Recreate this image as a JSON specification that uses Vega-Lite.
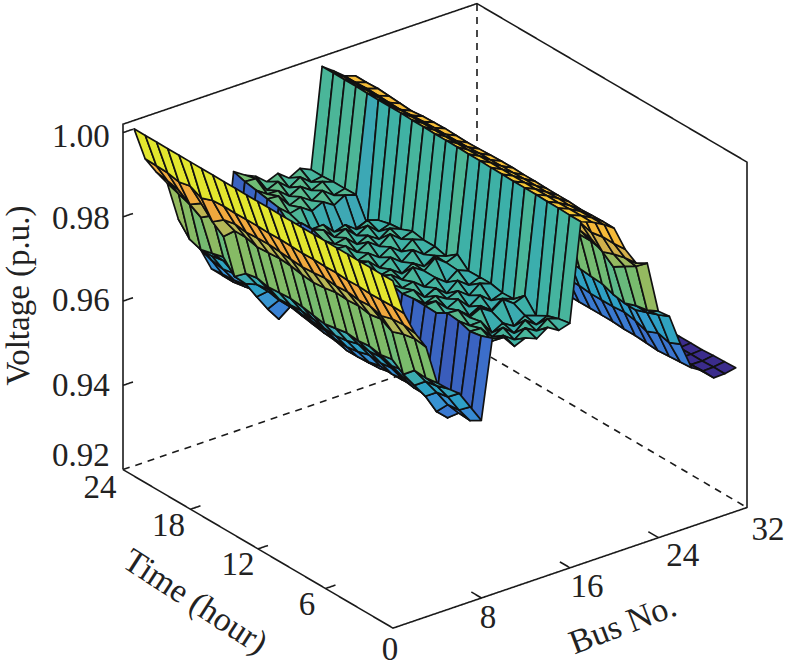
{"$schema":"https://vega.github.io/schema/vega-lite/v6.json","width":786,"height":671,"padding":0,"autosize":{"type":"fit","contains":"padding"},"background":"white","view":{"stroke":null},
"datasets":{
"box":[
{"g":"s1","o":1,"d":"solid","b":0,"t":24,"v":0.92},{"g":"s1","o":2,"d":"solid","b":0,"t":0,"v":0.92},{"g":"s1","o":3,"d":"solid","b":32,"t":0,"v":0.92},{"g":"s1","o":4,"d":"solid","b":32,"t":0,"v":1.002},{"g":"s1","o":5,"d":"solid","b":32,"t":24,"v":1.002},{"g":"s1","o":6,"d":"solid","b":0,"t":24,"v":1.002},{"g":"s1","o":7,"d":"solid","b":0,"t":24,"v":0.92},
{"g":"d1","o":1,"d":"dash","b":0,"t":24,"v":0.92},{"g":"d1","o":2,"d":"dash","b":32,"t":24,"v":0.92},{"g":"d1","o":3,"d":"dash","b":32,"t":0,"v":0.92},
{"g":"d2","o":1,"d":"dash","b":32,"t":24,"v":0.92},{"g":"d2","o":2,"d":"dash","b":32,"t":24,"v":1.002},
{"g":"t6","o":1,"d":"solid","b":0,"t":6,"v":0.92},{"g":"t6","o":2,"d":"solid","b":0.9,"t":6,"v":0.92},
{"g":"t12","o":1,"d":"solid","b":0,"t":12,"v":0.92},{"g":"t12","o":2,"d":"solid","b":0.9,"t":12,"v":0.92},
{"g":"t18","o":1,"d":"solid","b":0,"t":18,"v":0.92},{"g":"t18","o":2,"d":"solid","b":0.9,"t":18,"v":0.92},
{"g":"b8","o":1,"d":"solid","b":8,"t":0,"v":0.92},{"g":"b8","o":2,"d":"solid","b":8,"t":0.9,"v":0.92},
{"g":"b16","o":1,"d":"solid","b":16,"t":0,"v":0.92},{"g":"b16","o":2,"d":"solid","b":16,"t":0.9,"v":0.92},
{"g":"b24","o":1,"d":"solid","b":24,"t":0,"v":0.92},{"g":"b24","o":2,"d":"solid","b":24,"t":0.9,"v":0.92},
{"g":"v94","o":1,"d":"solid","b":0,"t":24,"v":0.94},{"g":"v94","o":2,"d":"solid","b":0.9,"t":24,"v":0.94},
{"g":"v96","o":1,"d":"solid","b":0,"t":24,"v":0.96},{"g":"v96","o":2,"d":"solid","b":0.9,"t":24,"v":0.96},
{"g":"v98","o":1,"d":"solid","b":0,"t":24,"v":0.98},{"g":"v98","o":2,"d":"solid","b":0.9,"t":24,"v":0.98},
{"g":"v100","o":1,"d":"solid","b":0,"t":24,"v":1.0},{"g":"v100","o":2,"d":"solid","b":0.9,"t":24,"v":1.0}
],
"labels":[
{"label":"1.00","b":-3.8,"t":24,"v":1.00246},{"label":"0.98","b":-3.8,"t":24,"v":0.9829},{"label":"0.96","b":-3.8,"t":24,"v":0.9634},{"label":"0.94","b":-3.8,"t":24,"v":0.9432},{"label":"0.92","b":-3.8,"t":24,"v":0.9267},
{"label":"24","b":-2.08,"t":24,"v":0.9174},{"label":"18","b":-2,"t":18,"v":0.9178},{"label":"12","b":-1.8,"t":12,"v":0.9177},{"label":"6","b":-1.67,"t":6,"v":0.9175},{"label":"0","b":-0.27,"t":0,"v":0.915},
{"label":"8","b":8.59,"t":0,"v":0.9147},{"label":"16","b":17.54,"t":0,"v":0.914},{"label":"24","b":26.2,"t":0,"v":0.9138},{"label":"32","b":33.9,"t":0,"v":0.91285}
],
"titleV":[{"label":"Voltage (p.u.)","b":-9.4,"t":24,"v":0.96975}],
"titleT":[{"label":"Time (hour)","b":-8.8,"t":8.95,"v":0.92}],
"titleB":[{"label":"Bus No.","b":13.45,"t":-7.22,"v":0.92}],
"grid":[
{"b":32,"t":24,"v":0.951},{"b":32,"t":23,"v":0.951},{"b":32,"t":22,"v":0.9512},{"b":32,"t":21,"v":0.951},{"b":32,"t":20,"v":0.9508},{"b":32,"t":19,"v":0.9506},{"b":32,"t":18,"v":0.951},{"b":32,"t":17,"v":0.9512},{"b":32,"t":16,"v":0.9512},{"b":32,"t":15,"v":0.951},{"b":32,"t":14,"v":0.951},{"b":32,"t":13,"v":0.9512},{"b":32,"t":12,"v":0.9512},{"b":32,"t":11,"v":0.9514},{"b":32,"t":10,"v":0.9514},{"b":32,"t":9,"v":0.9512},{"b":32,"t":8,"v":0.9512},{"b":32,"t":7,"v":0.9512},{"b":32,"t":6,"v":0.9512},{"b":32,"t":5,"v":0.9512},{"b":32,"t":4,"v":0.9512},{"b":32,"t":3,"v":0.9514},{"b":32,"t":2,"v":0.9515},{"b":32,"t":1,"v":0.9516},
{"b":31,"t":24,"v":0.9508},{"b":31,"t":23,"v":0.9508},{"b":31,"t":22,"v":0.951},{"b":31,"t":21,"v":0.9508},{"b":31,"t":20,"v":0.9506},{"b":31,"t":19,"v":0.9504},{"b":31,"t":18,"v":0.9508},{"b":31,"t":17,"v":0.951},{"b":31,"t":16,"v":0.951},{"b":31,"t":15,"v":0.9508},{"b":31,"t":14,"v":0.9508},{"b":31,"t":13,"v":0.951},{"b":31,"t":12,"v":0.951},{"b":31,"t":11,"v":0.9511},{"b":31,"t":10,"v":0.9511},{"b":31,"t":9,"v":0.951},{"b":31,"t":8,"v":0.951},{"b":31,"t":7,"v":0.951},{"b":31,"t":6,"v":0.951},{"b":31,"t":5,"v":0.951},{"b":31,"t":4,"v":0.951},{"b":31,"t":3,"v":0.951},{"b":31,"t":2,"v":0.9511},{"b":31,"t":1,"v":0.9511},
{"b":30,"t":24,"v":0.951},{"b":30,"t":23,"v":0.951},{"b":30,"t":22,"v":0.9512},{"b":30,"t":21,"v":0.951},{"b":30,"t":20,"v":0.9506},{"b":30,"t":19,"v":0.9504},{"b":30,"t":18,"v":0.9508},{"b":30,"t":17,"v":0.951},{"b":30,"t":16,"v":0.951},{"b":30,"t":15,"v":0.9508},{"b":30,"t":14,"v":0.9508},{"b":30,"t":13,"v":0.951},{"b":30,"t":12,"v":0.951},{"b":30,"t":11,"v":0.9511},{"b":30,"t":10,"v":0.9511},{"b":30,"t":9,"v":0.951},{"b":30,"t":8,"v":0.951},{"b":30,"t":7,"v":0.951},{"b":30,"t":6,"v":0.951},{"b":30,"t":5,"v":0.951},{"b":30,"t":4,"v":0.951},{"b":30,"t":3,"v":0.951},{"b":30,"t":2,"v":0.951},{"b":30,"t":1,"v":0.951},
{"b":29,"t":24,"v":0.953},{"b":29,"t":23,"v":0.953},{"b":29,"t":22,"v":0.9532},{"b":29,"t":21,"v":0.953},{"b":29,"t":20,"v":0.9525},{"b":29,"t":19,"v":0.9522},{"b":29,"t":18,"v":0.9528},{"b":29,"t":17,"v":0.953},{"b":29,"t":16,"v":0.9532},{"b":29,"t":15,"v":0.953},{"b":29,"t":14,"v":0.9528},{"b":29,"t":13,"v":0.953},{"b":29,"t":12,"v":0.9532},{"b":29,"t":11,"v":0.9533},{"b":29,"t":10,"v":0.9533},{"b":29,"t":9,"v":0.9532},{"b":29,"t":8,"v":0.9532},{"b":29,"t":7,"v":0.9532},{"b":29,"t":6,"v":0.9532},{"b":29,"t":5,"v":0.9532},{"b":29,"t":4,"v":0.9532},{"b":29,"t":3,"v":0.9532},{"b":29,"t":2,"v":0.9534},{"b":29,"t":1,"v":0.9536},
{"b":28,"t":24,"v":0.955},{"b":28,"t":23,"v":0.955},{"b":28,"t":22,"v":0.9552},{"b":28,"t":21,"v":0.9548},{"b":28,"t":20,"v":0.9545},{"b":28,"t":19,"v":0.9542},{"b":28,"t":18,"v":0.9548},{"b":28,"t":17,"v":0.955},{"b":28,"t":16,"v":0.9552},{"b":28,"t":15,"v":0.955},{"b":28,"t":14,"v":0.9548},{"b":28,"t":13,"v":0.955},{"b":28,"t":12,"v":0.9552},{"b":28,"t":11,"v":0.9552},{"b":28,"t":10,"v":0.9552},{"b":28,"t":9,"v":0.9552},{"b":28,"t":8,"v":0.9552},{"b":28,"t":7,"v":0.955},{"b":28,"t":6,"v":0.955},{"b":28,"t":5,"v":0.9548},{"b":28,"t":4,"v":0.9546},{"b":28,"t":3,"v":0.9548},{"b":28,"t":2,"v":0.955},{"b":28,"t":1,"v":0.9552},
{"b":27,"t":24,"v":0.961},{"b":27,"t":23,"v":0.961},{"b":27,"t":22,"v":0.9612},{"b":27,"t":21,"v":0.9608},{"b":27,"t":20,"v":0.96},{"b":27,"t":19,"v":0.9595},{"b":27,"t":18,"v":0.9605},{"b":27,"t":17,"v":0.961},{"b":27,"t":16,"v":0.9612},{"b":27,"t":15,"v":0.9608},{"b":27,"t":14,"v":0.9606},{"b":27,"t":13,"v":0.961},{"b":27,"t":12,"v":0.9612},{"b":27,"t":11,"v":0.9615},{"b":27,"t":10,"v":0.9615},{"b":27,"t":9,"v":0.9612},{"b":27,"t":8,"v":0.9612},{"b":27,"t":7,"v":0.9612},{"b":27,"t":6,"v":0.9615},{"b":27,"t":5,"v":0.961},{"b":27,"t":4,"v":0.96},{"b":27,"t":3,"v":0.9612},{"b":27,"t":2,"v":0.9605},{"b":27,"t":1,"v":0.9617},
{"b":26,"t":24,"v":0.9685},{"b":26,"t":23,"v":0.9685},{"b":26,"t":22,"v":0.9688},{"b":26,"t":21,"v":0.968},{"b":26,"t":20,"v":0.9672},{"b":26,"t":19,"v":0.9668},{"b":26,"t":18,"v":0.9678},{"b":26,"t":17,"v":0.9685},{"b":26,"t":16,"v":0.9688},{"b":26,"t":15,"v":0.9682},{"b":26,"t":14,"v":0.968},{"b":26,"t":13,"v":0.9685},{"b":26,"t":12,"v":0.9688},{"b":26,"t":11,"v":0.969},{"b":26,"t":10,"v":0.969},{"b":26,"t":9,"v":0.9688},{"b":26,"t":8,"v":0.9685},{"b":26,"t":7,"v":0.9682},{"b":26,"t":6,"v":0.968},{"b":26,"t":5,"v":0.9675},{"b":26,"t":4,"v":0.966},{"b":26,"t":3,"v":0.967},{"b":26,"t":2,"v":0.968},{"b":26,"t":1,"v":0.9692},
{"b":25,"t":24,"v":0.9705},{"b":25,"t":23,"v":0.9705},{"b":25,"t":22,"v":0.9708},{"b":25,"t":21,"v":0.97},{"b":25,"t":20,"v":0.9692},{"b":25,"t":19,"v":0.9688},{"b":25,"t":18,"v":0.9698},{"b":25,"t":17,"v":0.9705},{"b":25,"t":16,"v":0.9708},{"b":25,"t":15,"v":0.9702},{"b":25,"t":14,"v":0.97},{"b":25,"t":13,"v":0.9705},{"b":25,"t":12,"v":0.9708},{"b":25,"t":11,"v":0.971},{"b":25,"t":10,"v":0.971},{"b":25,"t":9,"v":0.9708},{"b":25,"t":8,"v":0.9705},{"b":25,"t":7,"v":0.9702},{"b":25,"t":6,"v":0.97},{"b":25,"t":5,"v":0.969},{"b":25,"t":4,"v":0.9685},{"b":25,"t":3,"v":0.9695},{"b":25,"t":2,"v":0.97},{"b":25,"t":1,"v":0.9713},
{"b":24,"t":24,"v":0.9815},{"b":24,"t":23,"v":0.9815},{"b":24,"t":22,"v":0.9818},{"b":24,"t":21,"v":0.981},{"b":24,"t":20,"v":0.98},{"b":24,"t":19,"v":0.9795},{"b":24,"t":18,"v":0.9805},{"b":24,"t":17,"v":0.9812},{"b":24,"t":16,"v":0.9815},{"b":24,"t":15,"v":0.981},{"b":24,"t":14,"v":0.9806},{"b":24,"t":13,"v":0.9812},{"b":24,"t":12,"v":0.9815},{"b":24,"t":11,"v":0.9818},{"b":24,"t":10,"v":0.9818},{"b":24,"t":9,"v":0.9815},{"b":24,"t":8,"v":0.9812},{"b":24,"t":7,"v":0.981},{"b":24,"t":6,"v":0.981},{"b":24,"t":5,"v":0.9805},{"b":24,"t":4,"v":0.978},{"b":24,"t":3,"v":0.9797},{"b":24,"t":2,"v":0.9813},{"b":24,"t":1,"v":0.9836},
{"b":23,"t":24,"v":0.9845},{"b":23,"t":23,"v":0.9845},{"b":23,"t":22,"v":0.9848},{"b":23,"t":21,"v":0.984},{"b":23,"t":20,"v":0.9832},{"b":23,"t":19,"v":0.9825},{"b":23,"t":18,"v":0.9835},{"b":23,"t":17,"v":0.9842},{"b":23,"t":16,"v":0.9845},{"b":23,"t":15,"v":0.984},{"b":23,"t":14,"v":0.9838},{"b":23,"t":13,"v":0.9842},{"b":23,"t":12,"v":0.9845},{"b":23,"t":11,"v":0.9848},{"b":23,"t":10,"v":0.9848},{"b":23,"t":9,"v":0.9845},{"b":23,"t":8,"v":0.9845},{"b":23,"t":7,"v":0.9845},{"b":23,"t":6,"v":0.9845},{"b":23,"t":5,"v":0.984},{"b":23,"t":4,"v":0.9825},{"b":23,"t":3,"v":0.9835},{"b":23,"t":2,"v":0.9842},{"b":23,"t":1,"v":0.9845},
{"b":22,"t":24,"v":0.989},{"b":22,"t":23,"v":0.989},{"b":22,"t":22,"v":0.9892},{"b":22,"t":21,"v":0.9888},{"b":22,"t":20,"v":0.988},{"b":22,"t":19,"v":0.9875},{"b":22,"t":18,"v":0.9885},{"b":22,"t":17,"v":0.9888},{"b":22,"t":16,"v":0.989},{"b":22,"t":15,"v":0.9888},{"b":22,"t":14,"v":0.9885},{"b":22,"t":13,"v":0.9888},{"b":22,"t":12,"v":0.989},{"b":22,"t":11,"v":0.9892},{"b":22,"t":10,"v":0.9892},{"b":22,"t":9,"v":0.989},{"b":22,"t":8,"v":0.989},{"b":22,"t":7,"v":0.989},{"b":22,"t":6,"v":0.989},{"b":22,"t":5,"v":0.9888},{"b":22,"t":4,"v":0.988},{"b":22,"t":3,"v":0.9885},{"b":22,"t":2,"v":0.9885},{"b":22,"t":1,"v":0.9887},
{"b":21,"t":24,"v":0.9947},{"b":21,"t":23,"v":0.9947},{"b":21,"t":22,"v":0.9948},{"b":21,"t":21,"v":0.9946},{"b":21,"t":20,"v":0.9944},{"b":21,"t":19,"v":0.9942},{"b":21,"t":18,"v":0.9945},{"b":21,"t":17,"v":0.9946},{"b":21,"t":16,"v":0.9947},{"b":21,"t":15,"v":0.9946},{"b":21,"t":14,"v":0.9945},{"b":21,"t":13,"v":0.9946},{"b":21,"t":12,"v":0.9947},{"b":21,"t":11,"v":0.9948},{"b":21,"t":10,"v":0.9948},{"b":21,"t":9,"v":0.9947},{"b":21,"t":8,"v":0.9947},{"b":21,"t":7,"v":0.9946},{"b":21,"t":6,"v":0.9946},{"b":21,"t":5,"v":0.9946},{"b":21,"t":4,"v":0.9944},{"b":21,"t":3,"v":0.9945},{"b":21,"t":2,"v":0.9946},{"b":21,"t":1,"v":0.9946},
{"b":20,"t":24,"v":0.9956},{"b":20,"t":23,"v":0.9956},{"b":20,"t":22,"v":0.9957},{"b":20,"t":21,"v":0.9956},{"b":20,"t":20,"v":0.9955},{"b":20,"t":19,"v":0.9954},{"b":20,"t":18,"v":0.9956},{"b":20,"t":17,"v":0.9957},{"b":20,"t":16,"v":0.9958},{"b":20,"t":15,"v":0.9958},{"b":20,"t":14,"v":0.9958},{"b":20,"t":13,"v":0.9959},{"b":20,"t":12,"v":0.996},{"b":20,"t":11,"v":0.996},{"b":20,"t":10,"v":0.9961},{"b":20,"t":9,"v":0.9961},{"b":20,"t":8,"v":0.9962},{"b":20,"t":7,"v":0.9962},{"b":20,"t":6,"v":0.9962},{"b":20,"t":5,"v":0.9963},{"b":20,"t":4,"v":0.9962},{"b":20,"t":3,"v":0.9963},{"b":20,"t":2,"v":0.9964},{"b":20,"t":1,"v":0.9964},
{"b":19,"t":24,"v":0.9977},{"b":19,"t":23,"v":0.9977},{"b":19,"t":22,"v":0.9977},{"b":19,"t":21,"v":0.9977},{"b":19,"t":20,"v":0.9976},{"b":19,"t":19,"v":0.9975},{"b":19,"t":18,"v":0.9977},{"b":19,"t":17,"v":0.9977},{"b":19,"t":16,"v":0.9977},{"b":19,"t":15,"v":0.9977},{"b":19,"t":14,"v":0.9977},{"b":19,"t":13,"v":0.9977},{"b":19,"t":12,"v":0.9977},{"b":19,"t":11,"v":0.9978},{"b":19,"t":10,"v":0.9978},{"b":19,"t":9,"v":0.9978},{"b":19,"t":8,"v":0.9978},{"b":19,"t":7,"v":0.9978},{"b":19,"t":6,"v":0.9978},{"b":19,"t":5,"v":0.9978},{"b":19,"t":4,"v":0.9977},{"b":19,"t":3,"v":0.9978},{"b":19,"t":2,"v":0.9978},{"b":19,"t":1,"v":0.9978},
{"b":18,"t":24,"v":0.9996},{"b":18,"t":23,"v":0.9996},{"b":18,"t":22,"v":0.9996},{"b":18,"t":21,"v":0.9996},{"b":18,"t":20,"v":0.9995},{"b":18,"t":19,"v":0.9995},{"b":18,"t":18,"v":0.9995},{"b":18,"t":17,"v":0.9995},{"b":18,"t":16,"v":0.9994},{"b":18,"t":15,"v":0.9994},{"b":18,"t":14,"v":0.9993},{"b":18,"t":13,"v":0.9993},{"b":18,"t":12,"v":0.9993},{"b":18,"t":11,"v":0.9992},{"b":18,"t":10,"v":0.9992},{"b":18,"t":9,"v":0.9991},{"b":18,"t":8,"v":0.9991},{"b":18,"t":7,"v":0.999},{"b":18,"t":6,"v":0.999},{"b":18,"t":5,"v":0.999},{"b":18,"t":4,"v":0.9989},{"b":18,"t":3,"v":0.9989},{"b":18,"t":2,"v":0.9988},{"b":18,"t":1,"v":0.9988},
{"b":17,"t":24,"v":0.976},{"b":17,"t":23,"v":0.976},{"b":17,"t":22,"v":0.9762},{"b":17,"t":21,"v":0.9762},{"b":17,"t":20,"v":0.9763},{"b":17,"t":19,"v":0.9708},{"b":17,"t":18,"v":0.9734},{"b":17,"t":17,"v":0.9741},{"b":17,"t":16,"v":0.9744},{"b":17,"t":15,"v":0.9755},{"b":17,"t":14,"v":0.975},{"b":17,"t":13,"v":0.975},{"b":17,"t":12,"v":0.9743},{"b":17,"t":11,"v":0.9763},{"b":17,"t":10,"v":0.9739},{"b":17,"t":9,"v":0.974},{"b":17,"t":8,"v":0.974},{"b":17,"t":7,"v":0.9734},{"b":17,"t":6,"v":0.9735},{"b":17,"t":5,"v":0.9759},{"b":17,"t":4,"v":0.9727},{"b":17,"t":3,"v":0.9742},{"b":17,"t":2,"v":0.9751},{"b":17,"t":1,"v":0.9756},
{"b":16,"t":24,"v":0.9772},{"b":16,"t":23,"v":0.9755},{"b":16,"t":22,"v":0.9772},{"b":16,"t":21,"v":0.9755},{"b":16,"t":20,"v":0.9771},{"b":16,"t":19,"v":0.9708},{"b":16,"t":18,"v":0.9743},{"b":16,"t":17,"v":0.9732},{"b":16,"t":16,"v":0.9755},{"b":16,"t":15,"v":0.9745},{"b":16,"t":14,"v":0.976},{"b":16,"t":13,"v":0.974},{"b":16,"t":12,"v":0.9753},{"b":16,"t":11,"v":0.9752},{"b":16,"t":10,"v":0.975},{"b":16,"t":9,"v":0.973},{"b":16,"t":8,"v":0.975},{"b":16,"t":7,"v":0.9725},{"b":16,"t":6,"v":0.9745},{"b":16,"t":5,"v":0.9749},{"b":16,"t":4,"v":0.9736},{"b":16,"t":3,"v":0.973},{"b":16,"t":2,"v":0.976},{"b":16,"t":1,"v":0.9748},
{"b":15,"t":24,"v":0.9758},{"b":15,"t":23,"v":0.9776},{"b":15,"t":22,"v":0.976},{"b":15,"t":21,"v":0.9775},{"b":15,"t":20,"v":0.9756},{"b":15,"t":19,"v":0.971},{"b":15,"t":18,"v":0.973},{"b":15,"t":17,"v":0.9755},{"b":15,"t":16,"v":0.9738},{"b":15,"t":15,"v":0.9766},{"b":15,"t":14,"v":0.974},{"b":15,"t":13,"v":0.976},{"b":15,"t":12,"v":0.9736},{"b":15,"t":11,"v":0.9772},{"b":15,"t":10,"v":0.973},{"b":15,"t":9,"v":0.975},{"b":15,"t":8,"v":0.973},{"b":15,"t":7,"v":0.9746},{"b":15,"t":6,"v":0.9726},{"b":15,"t":5,"v":0.9768},{"b":15,"t":4,"v":0.972},{"b":15,"t":3,"v":0.975},{"b":15,"t":2,"v":0.974},{"b":15,"t":1,"v":0.9764},
{"b":14,"t":24,"v":0.9778},{"b":14,"t":23,"v":0.976},{"b":14,"t":22,"v":0.9778},{"b":14,"t":21,"v":0.976},{"b":14,"t":20,"v":0.9773},{"b":14,"t":19,"v":0.9712},{"b":14,"t":18,"v":0.975},{"b":14,"t":17,"v":0.974},{"b":14,"t":16,"v":0.9756},{"b":14,"t":15,"v":0.9746},{"b":14,"t":14,"v":0.976},{"b":14,"t":13,"v":0.974},{"b":14,"t":12,"v":0.9753},{"b":14,"t":11,"v":0.975},{"b":14,"t":10,"v":0.975},{"b":14,"t":9,"v":0.9728},{"b":14,"t":8,"v":0.975},{"b":14,"t":7,"v":0.9728},{"b":14,"t":6,"v":0.9746},{"b":14,"t":5,"v":0.9748},{"b":14,"t":4,"v":0.9736},{"b":14,"t":3,"v":0.9728},{"b":14,"t":2,"v":0.9756},{"b":14,"t":1,"v":0.9746},
{"b":13,"t":24,"v":0.9767},{"b":13,"t":23,"v":0.9783},{"b":13,"t":22,"v":0.9764},{"b":13,"t":21,"v":0.9778},{"b":13,"t":20,"v":0.976},{"b":13,"t":19,"v":0.972},{"b":13,"t":18,"v":0.9742},{"b":13,"t":17,"v":0.9765},{"b":13,"t":16,"v":0.9744},{"b":13,"t":15,"v":0.9765},{"b":13,"t":14,"v":0.9744},{"b":13,"t":13,"v":0.976},{"b":13,"t":12,"v":0.9737},{"b":13,"t":11,"v":0.9768},{"b":13,"t":10,"v":0.9737},{"b":13,"t":9,"v":0.975},{"b":13,"t":8,"v":0.974},{"b":13,"t":7,"v":0.9755},{"b":13,"t":6,"v":0.9732},{"b":13,"t":5,"v":0.9765},{"b":13,"t":4,"v":0.9722},{"b":13,"t":3,"v":0.975},{"b":13,"t":2,"v":0.9737},{"b":13,"t":1,"v":0.9757},
{"b":12,"t":24,"v":0.9789},{"b":12,"t":23,"v":0.9772},{"b":12,"t":22,"v":0.9786},{"b":12,"t":21,"v":0.9767},{"b":12,"t":20,"v":0.9778},{"b":12,"t":19,"v":0.9735},{"b":12,"t":18,"v":0.9768},{"b":12,"t":17,"v":0.9754},{"b":12,"t":16,"v":0.9768},{"b":12,"t":15,"v":0.975},{"b":12,"t":14,"v":0.9763},{"b":12,"t":13,"v":0.9744},{"b":12,"t":12,"v":0.9756},{"b":12,"t":11,"v":0.9747},{"b":12,"t":10,"v":0.9758},{"b":12,"t":9,"v":0.9737},{"b":12,"t":8,"v":0.9756},{"b":12,"t":7,"v":0.9742},{"b":12,"t":6,"v":0.9753},{"b":12,"t":5,"v":0.9752},{"b":12,"t":4,"v":0.9758},{"b":12,"t":3,"v":0.9737},{"b":12,"t":2,"v":0.9756},{"b":12,"t":1,"v":0.9746},
{"b":11,"t":24,"v":0.9801},{"b":11,"t":23,"v":0.9808},{"b":11,"t":22,"v":0.9787},{"b":11,"t":21,"v":0.9798},{"b":11,"t":20,"v":0.9772},{"b":11,"t":19,"v":0.9763},{"b":11,"t":18,"v":0.9767},{"b":11,"t":17,"v":0.978},{"b":11,"t":16,"v":0.9762},{"b":11,"t":15,"v":0.9773},{"b":11,"t":14,"v":0.9754},{"b":11,"t":13,"v":0.9768},{"b":11,"t":12,"v":0.975},{"b":11,"t":11,"v":0.9768},{"b":11,"t":10,"v":0.9752},{"b":11,"t":9,"v":0.9763},{"b":11,"t":8,"v":0.9747},{"b":11,"t":7,"v":0.9768},{"b":11,"t":6,"v":0.9747},{"b":11,"t":5,"v":0.9778},{"b":11,"t":4,"v":0.9757},{"b":11,"t":3,"v":0.9766},{"b":11,"t":2,"v":0.9752},{"b":11,"t":1,"v":0.9776},
{"b":10,"t":24,"v":0.9818},{"b":10,"t":23,"v":0.981},{"b":10,"t":22,"v":0.9805},{"b":10,"t":21,"v":0.98},{"b":10,"t":20,"v":0.9795},{"b":10,"t":19,"v":0.977},{"b":10,"t":18,"v":0.979},{"b":10,"t":17,"v":0.979},{"b":10,"t":16,"v":0.978},{"b":10,"t":15,"v":0.9775},{"b":10,"t":14,"v":0.9772},{"b":10,"t":13,"v":0.977},{"b":10,"t":12,"v":0.9768},{"b":10,"t":11,"v":0.977},{"b":10,"t":10,"v":0.977},{"b":10,"t":9,"v":0.9763},{"b":10,"t":8,"v":0.9767},{"b":10,"t":7,"v":0.9766},{"b":10,"t":6,"v":0.9765},{"b":10,"t":5,"v":0.978},{"b":10,"t":4,"v":0.9777},{"b":10,"t":3,"v":0.9768},{"b":10,"t":2,"v":0.9773},{"b":10,"t":1,"v":0.9783},
{"b":9,"t":24,"v":0.958},{"b":9,"t":23,"v":0.958},{"b":9,"t":22,"v":0.9585},{"b":9,"t":21,"v":0.959},{"b":9,"t":20,"v":0.9595},{"b":9,"t":19,"v":0.9555},{"b":9,"t":18,"v":0.96},{"b":9,"t":17,"v":0.9609},{"b":9,"t":16,"v":0.9594},{"b":9,"t":15,"v":0.959},{"b":9,"t":14,"v":0.9585},{"b":9,"t":13,"v":0.9583},{"b":9,"t":12,"v":0.9577},{"b":9,"t":11,"v":0.9577},{"b":9,"t":10,"v":0.9579},{"b":9,"t":9,"v":0.9585},{"b":9,"t":8,"v":0.9583},{"b":9,"t":7,"v":0.9585},{"b":9,"t":6,"v":0.958},{"b":9,"t":5,"v":0.9584},{"b":9,"t":4,"v":0.9556},{"b":9,"t":3,"v":0.9583},{"b":9,"t":2,"v":0.9581},{"b":9,"t":1,"v":0.9597},
{"b":8,"t":24,"v":0.9605},{"b":8,"t":23,"v":0.9608},{"b":8,"t":22,"v":0.961},{"b":8,"t":21,"v":0.9615},{"b":8,"t":20,"v":0.962},{"b":8,"t":19,"v":0.9588},{"b":8,"t":18,"v":0.9625},{"b":8,"t":17,"v":0.9633},{"b":8,"t":16,"v":0.962},{"b":8,"t":15,"v":0.9615},{"b":8,"t":14,"v":0.961},{"b":8,"t":13,"v":0.9607},{"b":8,"t":12,"v":0.96},{"b":8,"t":11,"v":0.96},{"b":8,"t":10,"v":0.9603},{"b":8,"t":9,"v":0.961},{"b":8,"t":8,"v":0.9607},{"b":8,"t":7,"v":0.961},{"b":8,"t":6,"v":0.9605},{"b":8,"t":5,"v":0.961},{"b":8,"t":4,"v":0.958},{"b":8,"t":3,"v":0.9612},{"b":8,"t":2,"v":0.9615},{"b":8,"t":1,"v":0.9638},
{"b":7,"t":24,"v":0.966},{"b":7,"t":23,"v":0.965},{"b":7,"t":22,"v":0.9645},{"b":7,"t":21,"v":0.965},{"b":7,"t":20,"v":0.9655},{"b":7,"t":19,"v":0.9626},{"b":7,"t":18,"v":0.9655},{"b":7,"t":17,"v":0.966},{"b":7,"t":16,"v":0.965},{"b":7,"t":15,"v":0.9648},{"b":7,"t":14,"v":0.9645},{"b":7,"t":13,"v":0.9642},{"b":7,"t":12,"v":0.9635},{"b":7,"t":11,"v":0.9633},{"b":7,"t":10,"v":0.9637},{"b":7,"t":9,"v":0.9645},{"b":7,"t":8,"v":0.9642},{"b":7,"t":7,"v":0.9645},{"b":7,"t":6,"v":0.964},{"b":7,"t":5,"v":0.9645},{"b":7,"t":4,"v":0.9625},{"b":7,"t":3,"v":0.965},{"b":7,"t":2,"v":0.9655},{"b":7,"t":1,"v":0.9679},
{"b":6,"t":24,"v":0.9715},{"b":6,"t":23,"v":0.9695},{"b":6,"t":22,"v":0.9685},{"b":6,"t":21,"v":0.969},{"b":6,"t":20,"v":0.9695},{"b":6,"t":19,"v":0.9666},{"b":6,"t":18,"v":0.968},{"b":6,"t":17,"v":0.9685},{"b":6,"t":16,"v":0.9676},{"b":6,"t":15,"v":0.9678},{"b":6,"t":14,"v":0.968},{"b":6,"t":13,"v":0.9677},{"b":6,"t":12,"v":0.967},{"b":6,"t":11,"v":0.9668},{"b":6,"t":10,"v":0.9672},{"b":6,"t":9,"v":0.968},{"b":6,"t":8,"v":0.9678},{"b":6,"t":7,"v":0.968},{"b":6,"t":6,"v":0.9675},{"b":6,"t":5,"v":0.968},{"b":6,"t":4,"v":0.966},{"b":6,"t":3,"v":0.9685},{"b":6,"t":2,"v":0.969},{"b":6,"t":1,"v":0.9699},
{"b":5,"t":24,"v":0.975},{"b":5,"t":23,"v":0.9718},{"b":5,"t":22,"v":0.9709},{"b":5,"t":21,"v":0.9716},{"b":5,"t":20,"v":0.9723},{"b":5,"t":19,"v":0.9692},{"b":5,"t":18,"v":0.9715},{"b":5,"t":17,"v":0.972},{"b":5,"t":16,"v":0.9714},{"b":5,"t":15,"v":0.9716},{"b":5,"t":14,"v":0.9718},{"b":5,"t":13,"v":0.9715},{"b":5,"t":12,"v":0.971},{"b":5,"t":11,"v":0.9705},{"b":5,"t":10,"v":0.971},{"b":5,"t":9,"v":0.9715},{"b":5,"t":8,"v":0.9712},{"b":5,"t":7,"v":0.9715},{"b":5,"t":6,"v":0.971},{"b":5,"t":5,"v":0.9715},{"b":5,"t":4,"v":0.9695},{"b":5,"t":3,"v":0.972},{"b":5,"t":2,"v":0.9718},{"b":5,"t":1,"v":0.9722},
{"b":4,"t":24,"v":0.9844},{"b":4,"t":23,"v":0.9835},{"b":4,"t":22,"v":0.9825},{"b":4,"t":21,"v":0.981},{"b":4,"t":20,"v":0.983},{"b":4,"t":19,"v":0.9796},{"b":4,"t":18,"v":0.9825},{"b":4,"t":17,"v":0.9825},{"b":4,"t":16,"v":0.9818},{"b":4,"t":15,"v":0.982},{"b":4,"t":14,"v":0.9822},{"b":4,"t":13,"v":0.982},{"b":4,"t":12,"v":0.9815},{"b":4,"t":11,"v":0.9812},{"b":4,"t":10,"v":0.9815},{"b":4,"t":9,"v":0.982},{"b":4,"t":8,"v":0.9818},{"b":4,"t":7,"v":0.982},{"b":4,"t":6,"v":0.9815},{"b":4,"t":5,"v":0.982},{"b":4,"t":4,"v":0.9805},{"b":4,"t":3,"v":0.9815},{"b":4,"t":2,"v":0.982},{"b":4,"t":1,"v":0.9816},
{"b":3,"t":24,"v":0.988},{"b":3,"t":23,"v":0.9875},{"b":3,"t":22,"v":0.9868},{"b":3,"t":21,"v":0.985},{"b":3,"t":20,"v":0.9868},{"b":3,"t":19,"v":0.984},{"b":3,"t":18,"v":0.986},{"b":3,"t":17,"v":0.9866},{"b":3,"t":16,"v":0.9862},{"b":3,"t":15,"v":0.9864},{"b":3,"t":14,"v":0.9865},{"b":3,"t":13,"v":0.9863},{"b":3,"t":12,"v":0.986},{"b":3,"t":11,"v":0.9858},{"b":3,"t":10,"v":0.986},{"b":3,"t":9,"v":0.9863},{"b":3,"t":8,"v":0.986},{"b":3,"t":7,"v":0.9862},{"b":3,"t":6,"v":0.9858},{"b":3,"t":5,"v":0.986},{"b":3,"t":4,"v":0.9852},{"b":3,"t":3,"v":0.986},{"b":3,"t":2,"v":0.9862},{"b":3,"t":1,"v":0.9858},
{"b":2,"t":24,"v":0.992},{"b":2,"t":23,"v":0.9919},{"b":2,"t":22,"v":0.9918},{"b":2,"t":21,"v":0.9912},{"b":2,"t":20,"v":0.9918},{"b":2,"t":19,"v":0.9905},{"b":2,"t":18,"v":0.9915},{"b":2,"t":17,"v":0.9917},{"b":2,"t":16,"v":0.9916},{"b":2,"t":15,"v":0.9917},{"b":2,"t":14,"v":0.9917},{"b":2,"t":13,"v":0.9916},{"b":2,"t":12,"v":0.9917},{"b":2,"t":11,"v":0.9916},{"b":2,"t":10,"v":0.9915},{"b":2,"t":9,"v":0.9916},{"b":2,"t":8,"v":0.9915},{"b":2,"t":7,"v":0.9916},{"b":2,"t":6,"v":0.9914},{"b":2,"t":5,"v":0.9915},{"b":2,"t":4,"v":0.9913},{"b":2,"t":3,"v":0.9914},{"b":2,"t":2,"v":0.9915},{"b":2,"t":1,"v":0.9914},
{"b":1,"t":24,"v":1.0},{"b":1,"t":23,"v":1.0},{"b":1,"t":22,"v":1.0},{"b":1,"t":21,"v":1.0},{"b":1,"t":20,"v":1.0},{"b":1,"t":19,"v":1.0},{"b":1,"t":18,"v":1.0},{"b":1,"t":17,"v":1.0},{"b":1,"t":16,"v":1.0},{"b":1,"t":15,"v":1.0},{"b":1,"t":14,"v":1.0},{"b":1,"t":13,"v":1.0},{"b":1,"t":12,"v":1.0},{"b":1,"t":11,"v":1.0},{"b":1,"t":10,"v":1.0},{"b":1,"t":9,"v":1.0},{"b":1,"t":8,"v":1.0},{"b":1,"t":7,"v":1.0},{"b":1,"t":6,"v":1.0},{"b":1,"t":5,"v":1.0},{"b":1,"t":4,"v":1.0},{"b":1,"t":3,"v":1.0},{"b":1,"t":2,"v":1.0},{"b":1,"t":1,"v":1.0}
]},
"encoding":{
"x":{"field":"px","type":"quantitative","scale":{"domain":[0,786],"nice":false,"zero":false},"axis":null},
"y":{"field":"py","type":"quantitative","scale":{"domain":[671,0],"nice":false,"zero":false},"axis":null}},
"layer":[
{"data":{"name":"box"},
"transform":[{"calculate":"393+11.0625*datum.b-11.25*datum.t","as":"px"},{"calculate":"628-3.78*datum.b-6.625*datum.t-4225*(datum.v-0.92)","as":"py"}],
"mark":{"type":"line","stroke":"#1a1a1a","strokeWidth":1.6},
"encoding":{"detail":{"field":"g"},"order":{"field":"o","type":"quantitative"},"strokeDash":{"field":"d","type":"nominal","scale":{"domain":["solid","dash"],"range":[[1,0],[7,6]]},"legend":null}}},
{"data":{"name":"grid"},
"transform":[
{"window":[{"op":"lead","param":24,"field":"v","as":"v10"},{"op":"lead","param":25,"field":"v","as":"v11"},{"op":"lead","param":1,"field":"v","as":"v01"}],"sort":[{"field":"b","order":"ascending"},{"field":"t","order":"ascending"}]},
{"filter":"datum.b<32 && datum.t<24"},
{"calculate":"'q'+datum.b+'_'+datum.t","as":"quad"},
{"fold":["v","v10","v11","v01"],"as":["k","z"]},
{"calculate":"datum.k=='v'?0:datum.k=='v10'?1:datum.k=='v11'?2:3","as":"o"},
{"calculate":"datum.b+((datum.k=='v10'||datum.k=='v11')?1:0)","as":"bb"},
{"calculate":"datum.t+((datum.k=='v01'||datum.k=='v11')?1:0)","as":"tt"},
{"calculate":"393+11.0625*datum.bb-11.25*datum.tt","as":"px"},
{"calculate":"628-3.78*datum.bb-6.625*datum.tt-4225*(datum.z-0.92)","as":"py"}],
"mark":{"type":"line","interpolate":"linear-closed","stroke":"#111111","strokeWidth":1.7,"strokeJoin":"round"},
"encoding":{"detail":{"field":"quad"},"order":{"field":"o","type":"quantitative"},
"fill":{"field":"v","type":"quantitative","legend":null,"scale":{"domain":[0.951,0.9552,0.9553,0.958,0.96,0.963,0.966,0.971,0.975,0.978,0.982,0.985,0.988,0.991,0.994,0.9997,1.0],"range":["#3b2c8c","#3d2f92","#3a5cbc","#3a62c0","#3c70cc","#3b85d5","#3a98d0","#3ea8b4","#44b4a0","#5cb98a","#7fbb68","#a8b85c","#cdb350","#efa53f","#f5b83a","#f5c832","#e3e62e"]}}}},
{"data":{"name":"labels"},
"transform":[{"calculate":"393+11.0625*datum.b-11.25*datum.t","as":"px"},{"calculate":"628-3.78*datum.b-6.625*datum.t-4225*(datum.v-0.92)","as":"py"}],
"mark":{"type":"text","font":"Liberation Serif","fontSize":33,"fill":"#222222","align":"center","baseline":"middle"},
"encoding":{"text":{"field":"label"}}},
{"data":{"name":"titleV"},
"transform":[{"calculate":"393+11.0625*datum.b-11.25*datum.t","as":"px"},{"calculate":"628-3.78*datum.b-6.625*datum.t-4225*(datum.v-0.92)","as":"py"}],
"mark":{"type":"text","font":"Liberation Serif","fontSize":33,"fill":"#222222","align":"center","baseline":"middle","angle":270},
"encoding":{"text":{"field":"label"}}},
{"data":{"name":"titleT"},
"transform":[{"calculate":"393+11.0625*datum.b-11.25*datum.t","as":"px"},{"calculate":"628-3.78*datum.b-6.625*datum.t-4225*(datum.v-0.92)","as":"py"}],
"mark":{"type":"text","font":"Liberation Serif","fontSize":34,"fill":"#222222","align":"center","baseline":"middle","angle":33},
"encoding":{"text":{"field":"label"}}},
{"data":{"name":"titleB"},
"transform":[{"calculate":"393+11.0625*datum.b-11.25*datum.t","as":"px"},{"calculate":"628-3.78*datum.b-6.625*datum.t-4225*(datum.v-0.92)","as":"py"}],
"mark":{"type":"text","font":"Liberation Serif","fontSize":34,"fill":"#222222","align":"center","baseline":"middle","angle":339},
"encoding":{"text":{"field":"label"}}}
]}
